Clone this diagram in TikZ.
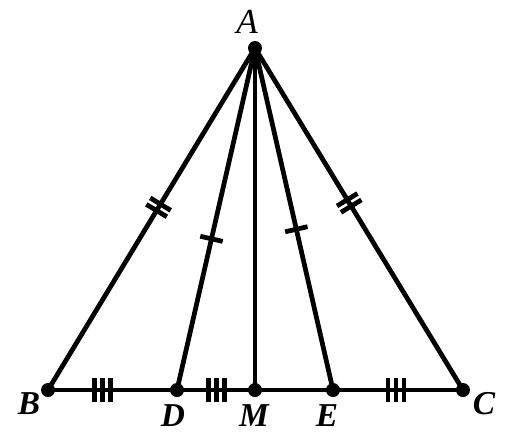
\documentclass[tikz,border=0pt]{standalone}
\usepackage{fontspec}
\setmainfont{Liberation Serif}
\usetikzlibrary{decorations.markings}

\tikzset{
  dot/.style={circle, fill, inner sep=0pt, minimum size=0.28cm},
  lbl/.style={inner sep=0pt, font=\fontsize{19}{19}\selectfont\bfseries\itshape},
  singletick/.style={decoration={markings, mark=at position #1 with {\draw (0,-0.23cm) -- (0,0.23cm);}}, postaction={decorate}},
  doubletick/.style={decoration={markings, mark=at position #1 with {\draw (-0.075cm,-0.24cm) -- (-0.075cm,0.24cm) (0.075cm,-0.24cm) -- (0.075cm,0.24cm);}}, postaction={decorate}},
  tripletick/.style={decoration={markings, mark=at position #1 with {\draw (-0.16cm,-0.24cm) -- (-0.16cm,0.24cm) (0,-0.24cm) -- (0,0.24cm) (0.16cm,-0.24cm) -- (0.16cm,0.24cm);}}, postaction={decorate}}
}

\begin{document}
\begin{tikzpicture}[x=0.02cm, y=-0.02cm, line width=2.7pt]
    \useasboundingbox (0,0) rectangle (508,434);

    % Points
    \node[dot] (A) at (255,48) {};
    \node[dot] (B) at (48,390) {};
    \node[dot] (D) at (177,390) {};
    \node[dot] (M) at (255,390) {};
    \node[dot] (E) at (333,390) {};
    \node[dot] (C) at (463,390) {};

    % Labels
    \node[inner sep=0pt, font=\fontsize{20}{20}\selectfont\itshape] (lA) at (247,22) {A};
    \node[lbl] (lB) at (29,404) {B};
    \node[lbl] (lD) at (173,416) {D};
    \node[lbl] (lM) at (254,416) {M};
    \node[lbl] (lE) at (327,416) {E};
    \node[lbl] (lC) at (484,404) {C};

    % Sides and cevians
    \draw[doubletick=0.466] (A.center) -- (B.center);
    \draw[doubletick=0.453] (A.center) -- (C.center);
    \draw[singletick=0.558] (A.center) -- (D.center);
    \draw[singletick=0.53] (A.center) -- (E.center);
    \draw (A.center) -- (M.center);

    % Base
    \draw[tripletick=0.42] (B.center) -- (D.center);
    \draw[tripletick=0.51] (D.center) -- (M.center);
    \draw (M.center) -- (E.center);
    \draw[tripletick=0.485] (E.center) -- (C.center);
\end{tikzpicture}
\end{document}
